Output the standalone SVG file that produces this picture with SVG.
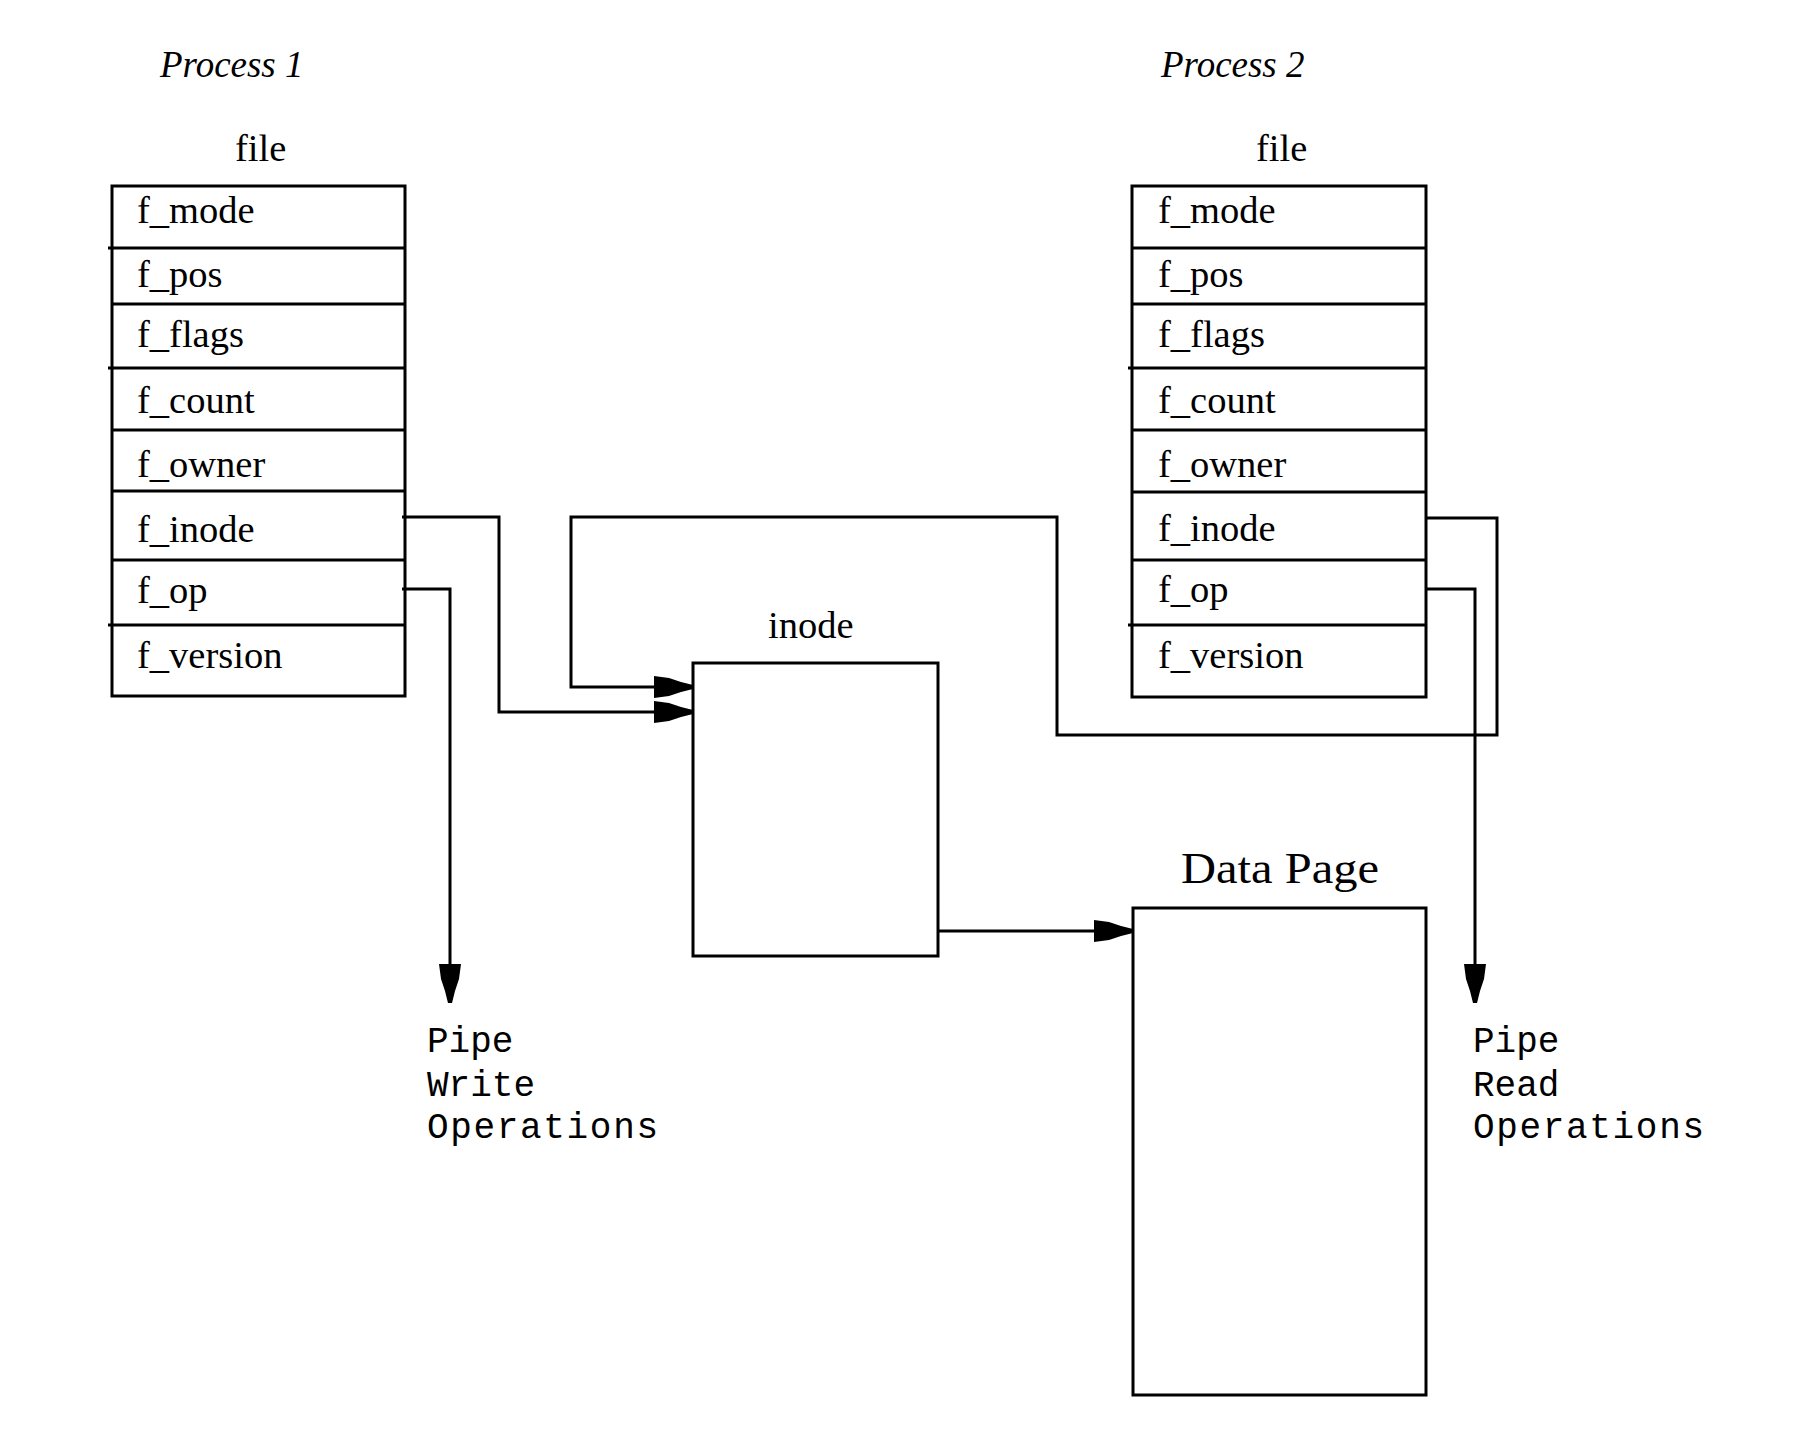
<svg xmlns="http://www.w3.org/2000/svg" xmlns:xlink="http://www.w3.org/1999/xlink" width="1798" height="1450" viewBox="0 0 1798 1450">
  <style>
    .box { fill: #fff; stroke: #000; stroke-width: 3; }
    .div { stroke: #000; stroke-width: 3; }
    .wire { fill: none; stroke: #000; stroke-width: 3; }
    .lbl { font-family: "Liberation Serif", "Times New Roman", serif; font-size: 38.5px; fill: #000; }
    .title { font-family: "Liberation Serif", "Times New Roman", serif; font-size: 37px; font-style: italic; fill: #000; }
    .big { font-family: "Liberation Serif", "Times New Roman", serif; font-size: 44px; fill: #000; }
    .mono { font-family: "Liberation Mono", "Courier New", monospace; font-size: 36px; fill: #000; }
  </style>
  <defs>
    <!-- arrowhead pointing right, tip at origin -->
    <polygon id="head" points="-39,-11 -24,-9 -12,-5 0,-2 0,2 -12,5 -24,9 -39,11" fill="#000"/>
  </defs>

  <rect width="1798" height="1450" fill="#fff"/>

  <text class="title" x="160" y="77">Process 1</text>
  <text class="title" x="1161" y="77">Process 2</text>

  <!-- file structure of process 1 -->
  <g id="file1">
    <text class="lbl" x="235" y="161">file</text>
    <rect class="box" x="112" y="186" width="293" height="510"/>
    <line class="div" x1="108" y1="248" x2="405" y2="248"/>
    <line class="div" x1="112" y1="304" x2="405" y2="304"/>
    <line class="div" x1="108" y1="368" x2="405" y2="368"/>
    <line class="div" x1="112" y1="430" x2="405" y2="430"/>
    <line class="div" x1="112" y1="491" x2="405" y2="491"/>
    <line class="div" x1="112" y1="560" x2="405" y2="560"/>
    <line class="div" x1="108" y1="625" x2="405" y2="625"/>
    <text class="lbl" x="137" y="223">f_mode</text>
    <text class="lbl" x="137" y="287">f_pos</text>
    <text class="lbl" x="137" y="347">f_flags</text>
    <text class="lbl" x="137" y="413">f_count</text>
    <text class="lbl" x="137" y="477">f_owner</text>
    <text class="lbl" x="137" y="542">f_inode</text>
    <text class="lbl" x="137" y="603">f_op</text>
    <text class="lbl" x="137" y="668">f_version</text>
  </g>

  <!-- file structure of process 2 -->
  <g id="file2">
    <text class="lbl" x="1256" y="161">file</text>
    <rect class="box" x="1132" y="186" width="294" height="511"/>
    <line class="div" x1="1132" y1="248" x2="1426" y2="248"/>
    <line class="div" x1="1132" y1="304" x2="1426" y2="304"/>
    <line class="div" x1="1128" y1="368" x2="1426" y2="368"/>
    <line class="div" x1="1132" y1="430" x2="1426" y2="430"/>
    <line class="div" x1="1132" y1="492" x2="1426" y2="492"/>
    <line class="div" x1="1132" y1="560" x2="1426" y2="560"/>
    <line class="div" x1="1128" y1="625" x2="1426" y2="625"/>
    <text class="lbl" x="1158" y="223">f_mode</text>
    <text class="lbl" x="1158" y="287">f_pos</text>
    <text class="lbl" x="1158" y="347">f_flags</text>
    <text class="lbl" x="1158" y="413">f_count</text>
    <text class="lbl" x="1158" y="477">f_owner</text>
    <text class="lbl" x="1158" y="541">f_inode</text>
    <text class="lbl" x="1158" y="602">f_op</text>
    <text class="lbl" x="1158" y="668">f_version</text>
  </g>

  <!-- shared inode -->
  <g id="inode">
    <text class="lbl" x="768" y="638">inode</text>
    <rect class="box" x="693" y="663" width="245" height="293"/>
  </g>

  <!-- data page -->
  <g id="datapage">
    <text class="big" x="1181" y="883" textLength="198" lengthAdjust="spacingAndGlyphs">Data Page</text>
    <rect class="box" x="1133" y="908" width="293" height="487"/>
  </g>

  <g id="pipe-write">
    <text class="mono" x="427" y="1052">Pipe</text>
    <text class="mono" x="427" y="1096">Write</text>
    <text class="mono" x="427" y="1138" textLength="231" lengthAdjust="spacing">Operations</text>
  </g>

  <g id="pipe-read">
    <text class="mono" x="1473" y="1052">Pipe</text>
    <text class="mono" x="1473" y="1096">Read</text>
    <text class="mono" x="1473" y="1138" textLength="231" lengthAdjust="spacing">Operations</text>
  </g>

  <!-- connectors -->
  <g id="connectors">
    <path class="wire" d="M402,517 H499 V712 H660"/>
    <path class="wire" d="M402,589 H450 V970"/>
    <path class="wire" d="M1426,518 H1497 V735 H1057 V517 H571 V687 H660"/>
    <path class="wire" d="M1426,589 H1475 V970"/>
    <path class="wire" d="M938,931 H1100"/>
    <use xlink:href="#head" transform="translate(693,687)"/>
    <use xlink:href="#head" transform="translate(693,712)"/>
    <use xlink:href="#head" transform="translate(1133,931)"/>
    <use xlink:href="#head" transform="translate(450,1003) rotate(90)"/>
    <use xlink:href="#head" transform="translate(1475,1003) rotate(90)"/>
  </g>
</svg>
